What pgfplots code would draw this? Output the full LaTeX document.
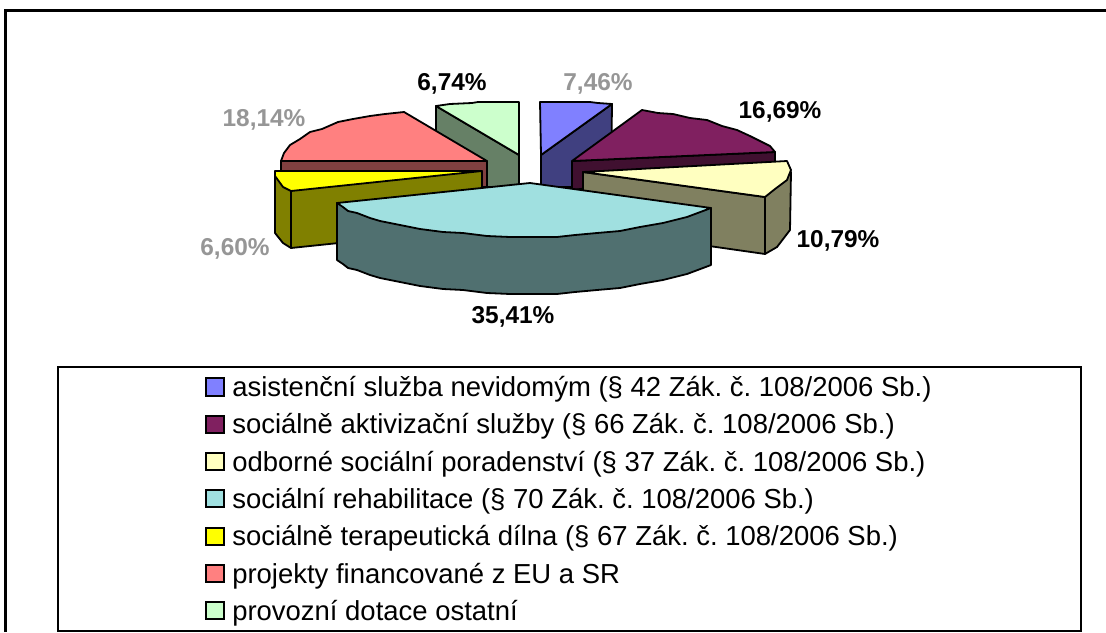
\documentclass[border=0pt]{standalone}
\usepackage{fontspec}
\setmainfont{Liberation Sans}
\usepackage{pgfplots}
\pgfplotsset{compat=1.18}

\definecolor{cblue}{RGB}{128,128,255}
\definecolor{cblueS}{RGB}{64,64,128}
\definecolor{cpurple}{RGB}{128,32,96}
\definecolor{cpurpleS}{RGB}{64,16,48}
\definecolor{cpale}{RGB}{255,255,192}
\definecolor{cpaleS}{RGB}{128,128,96}
\definecolor{cteal}{RGB}{160,224,224}
\definecolor{ctealS}{RGB}{80,112,112}
\definecolor{cyell}{RGB}{255,255,0}
\definecolor{cyellS}{RGB}{128,128,0}
\definecolor{cred}{RGB}{255,128,128}
\definecolor{credS}{RGB}{128,64,64}
\definecolor{cgreen}{RGB}{204,255,204}
\definecolor{cgreenS}{RGB}{102,128,102}
\definecolor{lblgray}{RGB}{150,150,150}

\pgfplotsset{
    slice/.style={fill=#1, draw=black, line width=1.35pt, line join=round, mark=none},
    swatch/.style={fill=#1, draw=black, line width=1.2pt, mark=none},
}
\tikzset{
    val/.style={font=\fontsize{18.3}{18.3}\bfseries\selectfont, anchor=base, text=#1},
    leg/.style={font=\fontsize{20.6}{20.6}\selectfont\frenchspacing, anchor=base west, inner sep=0pt},
}

\begin{document}
\begin{tikzpicture}
\begin{axis}[
    width=829.5pt, height=474pt, scale only axis,
    xmin=0, xmax=1106, ymin=0, ymax=632,
    y dir=reverse,
    hide axis,
]
% page background and frames
\addplot[fill=white, draw=none, mark=none] coordinates {(0,0) (1106,0) (1106,632) (0,632)} -- cycle;
\addplot[draw=black, line width=1.9pt, mark=none] coordinates {(5.5,632) (5.5,10.5) (1106,10.5)};
\addplot[fill=white, draw=black, line width=1.5pt, mark=none] coordinates {(58,367) (1081,367) (1081,631) (58,631)} -- cycle;

% provozni dotace ostatni
\addplot[slice=cgreenS] coordinates {(436,106) (519,155) (519,187) (436,187)} -- cycle;
\addplot[slice=cgreen] coordinates {(436,106) (450,104) (472,103) (478,102) (519,102) (519,155)} -- cycle;
% asistencni sluzba
\addplot[slice=cblueS] coordinates {(612,104) (541,155) (541,187) (611,187)} -- cycle;
\addplot[slice=cblue] coordinates {(540,102) (590,102) (598,103) (612,104) (541,155)} -- cycle;
% projekty
\addplot[slice=credS] coordinates {(281,161) (487,161) (487,187) (281,187)} -- cycle;
\addplot[slice=cred] coordinates {(487,161) (404,112) (385,114) (370,116) (353,119) (338,122) (322,129) (310,132) (300,139) (290,145) (284,153) (281,161)} -- cycle;
% socialne aktivizacni
\addplot[slice=cpurpleS] coordinates {(572,161) (775,152) (775,165) (572,190)} -- cycle;
\addplot[slice=cpurple] coordinates {(572,161) (642,110) (658,113) (673,114) (690,118) (707,120) (722,126) (737,130) (750,136) (760,141) (770,146) (775,152)} -- cycle;
% terapeuticka dilna
\addplot[slice=cyellS] coordinates {(275,171) (275,233) (283,243) (291,248) (482,228) (482,171)} -- cycle;
\addplot[slice=cyellS] coordinates {(291,191) (291,248)};
\addplot[slice=cyell] coordinates {(482,171) (275,171) (275,176) (283,187) (291,191)} -- cycle;
% odborne poradenstvi
\addplot[slice=cpaleS] coordinates {(583,172) (765,197) (791,172) (790,230) (777,247) (765,254) (583,228)} -- cycle;
\addplot[slice=cpaleS] coordinates {(765,197) (765,254)};
\addplot[slice=cpale] coordinates {(583,172) (787,161) (791,170) (787,180) (775,189) (765,197)} -- cycle;
% socialni rehabilitace
\addplot[slice=ctealS] coordinates {(337,203) (337,260) (343,264) (348,268) (357,270) (370,275) (380,278) (400,282) (420,286) (443,289) (463,290) (487,293) (510,294) (557,294) (575,292) (597,290) (620,288) (640,284) (663,280) (687,274) (711,265) (711,208)} -- cycle;
\addplot[slice=cteal] coordinates {(530,183) (337,203) (343,207) (348,211) (357,213) (370,218) (380,221) (400,225) (420,229) (443,232) (463,233) (487,236) (510,237) (557,237) (575,235) (597,233) (620,231) (640,227) (663,223) (687,217) (711,208)} -- cycle;

% value labels
\node[val=lblgray] at (axis cs:598,90) {7,46\%};
\node[val=black] at (axis cs:780,118) {16,69\%};
\node[val=black] at (axis cs:838,247) {10,79\%};
\node[val=black] at (axis cs:513,323) {35,41\%};
\node[val=lblgray] at (axis cs:235,255) {6,60\%};
\node[val=lblgray] at (axis cs:264,126) {18,14\%};
\node[val=black] at (axis cs:452,90) {6,74\%};

% legend
\addplot[swatch=cblue] coordinates {(206,378) (224,378) (224,396) (206,396)} -- cycle;
\addplot[swatch=cpurple] coordinates {(206,416) (224,416) (224,433) (206,433)} -- cycle;
\addplot[swatch=cpale] coordinates {(206,453) (224,453) (224,470) (206,470)} -- cycle;
\addplot[swatch=cteal] coordinates {(206,490) (224,490) (224,507) (206,507)} -- cycle;
\addplot[swatch=cyell] coordinates {(206,528) (224,528) (224,545) (206,545)} -- cycle;
\addplot[swatch=cred] coordinates {(206,565) (224,565) (224,582) (206,582)} -- cycle;
\addplot[swatch=cgreen] coordinates {(206,602) (224,602) (224,619) (206,619)} -- cycle;
\node[leg] at (axis cs:232,396) {asistenční služba nevidomým (§ 42 Zák. č. 108/2006 Sb.)};
\node[leg] at (axis cs:232,433.5) {sociálně aktivizační služby (§ 66 Zák. č. 108/2006 Sb.)};
\node[leg] at (axis cs:232,471) {odborné sociální poradenství (§ 37 Zák. č. 108/2006 Sb.)};
\node[leg] at (axis cs:232,508) {sociální rehabilitace (§ 70 Zák. č. 108/2006 Sb.)};
\node[leg] at (axis cs:232,545.5) {sociálně terapeutická dílna (§ 67 Zák. č. 108/2006 Sb.)};
\node[leg] at (axis cs:232,583) {projekty financované z EU a SR};
\node[leg] at (axis cs:232,620) {provozní dotace ostatní};
\end{axis}
\end{tikzpicture}
\end{document}
